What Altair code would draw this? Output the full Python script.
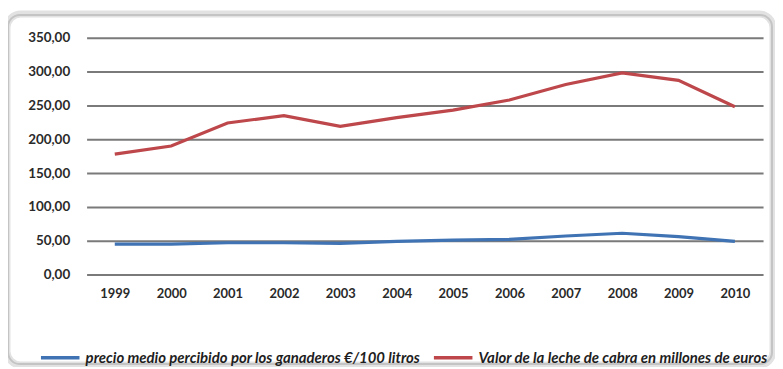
import altair as alt
import pandas as pd

years = ["1999", "2000", "2001", "2002", "2003", "2004", "2005", "2006", "2007", "2008", "2009", "2010"]
precio = [45, 45, 47, 47, 46, 49, 51, 52, 57, 61, 56, 49]
valor = [178, 190, 224, 235, 219, 232, 243, 258, 281, 298, 287, 248]

s1 = "precio medio percibido por los ganaderos €/100 litros"
s2 = "Valor de la leche de cabra en millones de euros"

df = pd.DataFrame({"year": years, s1: precio, s2: valor}).melt(
    id_vars="year", var_name="serie", value_name="valor")

FONT = "Lato"

frame_shadow = alt.Chart(pd.DataFrame({"a": [0]})).mark_rect(
    fillOpacity=0, stroke="#e2e2e2", strokeWidth=7, cornerRadius=14
).encode(x=alt.value(-80), x2=alt.value(690), y=alt.value(-24), y2=alt.value(329))

frame = alt.Chart(pd.DataFrame({"a": [0]})).mark_rect(
    fillOpacity=0, stroke="#c4c4c4", strokeWidth=2, cornerRadius=12
).encode(x=alt.value(-79), x2=alt.value(689), y=alt.value(-23), y2=alt.value(328))

lines = alt.Chart(df).mark_line(strokeWidth=3.2).encode(
    x=alt.X("year:O", sort=years,
            scale=alt.Scale(type="point", padding=0.5),
            axis=alt.Axis(title=None, labelAngle=0, ticks=False, domain=False,
                          labelPadding=13, labelFont=FONT, labelFontWeight="bold",
                          labelFontSize=13, labelColor="#2a2a2a")),
    y=alt.Y("valor:Q", scale=alt.Scale(domain=[0, 350], nice=False),
            axis=alt.Axis(title=None, values=[0, 50, 100, 150, 200, 250, 300, 350],
                          labelExpr="replace(format(datum.value, '.2f'), '.', ',')",
                          ticks=False, domain=False, grid=True,
                          gridColor="#7a7a7a", gridWidth=2, labelPadding=17,
                          labelFont=FONT, labelFontWeight="bold", labelFontSize=13.5,
                          labelColor="#2a2a2a")),
    color=alt.Color("serie:N", sort=[s1, s2],
                    scale=alt.Scale(domain=[s1, s2], range=["#3f73b3", "#bd474a"]),
                    legend=alt.Legend(title=None, orient="none", legendX=-48, legendY=300,
                                      direction="horizontal", symbolType="stroke",
                                      symbolStrokeWidth=3.5, symbolSize=1500,
                                      labelFont=FONT, labelFontStyle="italic",
                                      labelFontWeight="bold", labelFontSize=15,
                                      labelColor="#1e1e1e", labelLimit=0,
                                      columnPadding=6, labelOffset=4)),
)

chart = alt.layer(frame_shadow, frame, lines).properties(
    width=680, height=238,
    autosize=alt.AutoSizeParams(type="none"),
    padding={"left": 79, "top": 29, "right": 12, "bottom": 92},
    background="white",
).configure_view(stroke=None)

chart.save("out.html", embed_options={"renderer": "svg", "actions": False})
